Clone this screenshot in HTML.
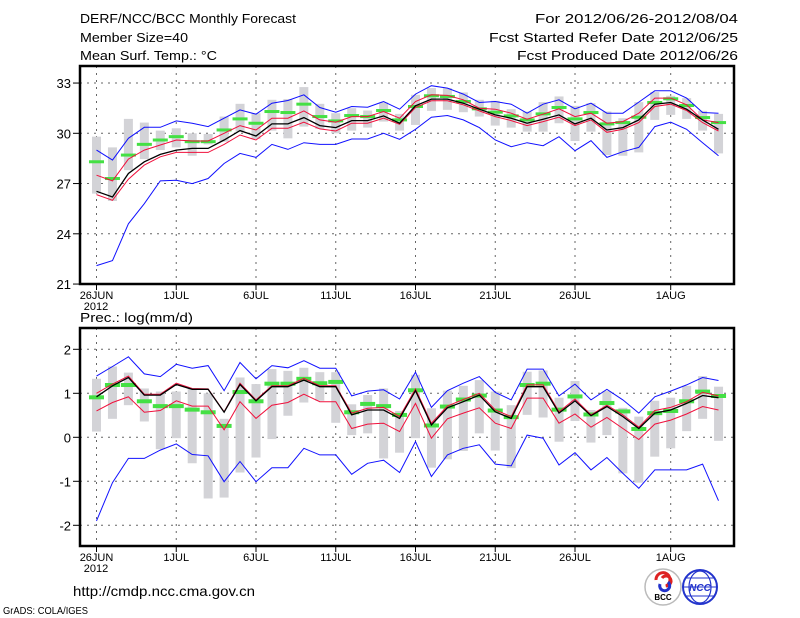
<!DOCTYPE html>
<html><head><meta charset="utf-8">
<style>
html,body{margin:0;padding:0;background:#fff;}
svg{display:block;font-family:"Liberation Sans",sans-serif;}
</style></head>
<body>
<svg id="chart" width="800" height="618" viewBox="0 0 800 618" xmlns="http://www.w3.org/2000/svg">
<g font-size="13" fill="#000">
<text x="80" y="23" textLength="216" lengthAdjust="spacingAndGlyphs">DERF/NCC/BCC Monthly Forecast</text>
<text x="80" y="42" textLength="108" lengthAdjust="spacingAndGlyphs">Member Size=40</text>
<text x="80" y="60" textLength="137" lengthAdjust="spacingAndGlyphs">Mean Surf. Temp.: °C</text>
<text x="738" y="23" text-anchor="end" textLength="203" lengthAdjust="spacingAndGlyphs">For 2012/06/26-2012/08/04</text>
<text x="738" y="42" text-anchor="end" textLength="249" lengthAdjust="spacingAndGlyphs">Fcst Started Refer Date 2012/06/25</text>
<text x="738" y="60" text-anchor="end" textLength="221" lengthAdjust="spacingAndGlyphs">Fcst Produced Date 2012/06/26</text>
</g>
<text x="80" y="322" font-size="13" textLength="113" lengthAdjust="spacingAndGlyphs">Prec.: log(mm/d)</text>
<text x="73" y="596" font-size="14" textLength="182" lengthAdjust="spacingAndGlyphs">http://cmdp.ncc.cma.gov.cn</text>
<text x="3" y="614" font-size="10" textLength="85" lengthAdjust="spacingAndGlyphs">GrADS: COLA/IGES</text>
<g>
<circle cx="663" cy="587" r="18" fill="#fff" stroke="#bbb" stroke-width="1.5"/>
<path d="M656 580 a7 7 0 1 1 10 6 a5 5 0 1 0 -4 -8" fill="none" stroke="#d22" stroke-width="3"/>
<path d="M660 584 a5 5 0 1 0 8 -2" fill="none" stroke="#23c" stroke-width="3"/>
<text x="663" y="600" font-size="8" text-anchor="middle" font-weight="bold">BCC</text>
</g>
<g>
<circle cx="700" cy="587" r="17" fill="#fff" stroke="#23c" stroke-width="2"/>
<ellipse cx="700" cy="587" rx="11" ry="16" fill="none" stroke="#23c" stroke-width="1.2"/>
<line x1="683" y1="587" x2="717" y2="587" stroke="#23c"/>
<line x1="686" y1="578" x2="714" y2="578" stroke="#23c"/>
<line x1="686" y1="596" x2="714" y2="596" stroke="#23c"/>
<text x="700" y="591" font-size="10" text-anchor="middle" font-style="italic" font-weight="bold" fill="#23c">NCC</text>
</g>
</svg>
<script>
const days = ["26JUN","1JUL","6JUL","11JUL","16JUL","21JUL","26JUL","1AUG"];
const dayIdx = [0,5,10,15,20,25,30,36];
const tTicks = [21,24,27,30,33];
const pTicks = [-2,-1,0,1,2];

const tBlueU = [29.0,28.4,29.7,30.36,30.36,30.74,30.6,30.4,30.9,31.4,31.14,31.8,31.96,32.3,31.54,31.26,31.6,31.56,31.9,31.44,32.34,32.84,32.7,32.34,31.84,31.9,31.74,31.2,31.74,32.0,31.46,31.8,31.2,31.2,31.86,32.54,32.54,32.1,31.24,31.2];
const tBlueL = [22.1,22.4,24.6,25.8,27.16,27.2,27.0,27.3,28.2,28.8,28.56,29.34,29.04,29.44,29.34,29.34,29.66,29.66,30.0,29.64,30.24,30.96,31.06,30.8,30.34,29.6,29.2,29.44,29.26,29.8,28.96,29.56,28.56,28.9,29.16,30.4,30.66,30.24,29.44,28.66];
const tMean = [26.54,26.2,27.6,28.3,28.74,29.0,29.1,29.1,29.6,30.16,29.84,30.56,30.56,30.94,30.46,30.34,30.76,30.76,31.04,30.6,31.64,32.04,32.04,31.8,31.44,31.1,30.9,30.6,30.84,31.1,30.56,30.9,30.2,30.34,30.8,31.74,31.84,31.44,30.8,30.24];
const tRedU = [27.5,27.16,28.46,29.0,29.3,29.6,29.54,29.54,30.0,30.46,30.2,30.9,30.9,31.34,30.8,30.66,31.0,31.0,31.3,30.9,31.9,32.3,32.26,32.0,31.5,31.44,31.2,30.84,31.14,31.46,31.0,31.2,30.6,30.7,31.2,32.1,32.1,31.7,30.8,30.64];
const tRedL = [26.34,26.0,27.26,28.1,28.6,28.86,28.86,28.86,29.34,29.9,29.6,30.3,30.3,30.66,30.26,30.14,30.6,30.6,30.9,30.54,31.54,31.94,31.94,31.7,31.34,31.0,30.76,30.46,30.7,30.96,30.46,30.8,30.06,30.24,30.64,31.6,31.74,31.36,30.64,30.14];
const tGreen = [28.3,27.3,28.7,29.34,29.6,29.8,29.5,29.5,30.2,30.86,30.6,31.3,31.24,31.74,31.0,30.74,31.06,31.0,31.36,30.8,31.6,32.24,32.2,31.9,31.46,31.26,31.04,30.8,31.16,31.54,30.86,31.24,30.56,30.64,30.96,31.84,32.06,31.66,30.94,30.64];
const tBoxTop = [29.8,29.16,30.86,30.64,30.16,30.3,30.0,29.96,31.0,31.76,31.2,32.0,32.04,32.76,31.76,31.2,31.5,31.36,31.84,31.16,32.3,32.7,32.7,32.44,32.0,31.94,31.44,31.3,31.86,32.2,31.64,31.8,31.3,30.9,31.86,32.46,32.24,32.1,31.34,31.16];
const tBoxBot = [26.4,25.96,27.8,28.46,29.0,29.16,28.66,29.34,29.5,30.1,29.66,30.16,29.7,30.4,30.26,30.0,30.16,30.34,30.7,30.16,30.5,31.34,31.4,31.26,31.0,30.46,30.34,30.1,30.1,30.6,29.54,30.1,28.7,28.66,28.86,30.8,31.1,30.86,30.16,28.8];

const pBlueU = [1.39,1.61,1.83,1.44,1.38,1.66,1.57,1.63,1.06,1.70,1.33,1.63,1.58,1.74,1.57,1.57,0.94,1.05,1.08,0.87,1.48,0.68,1.06,1.23,1.38,1.02,0.85,1.55,1.55,0.94,1.21,0.85,1.09,0.85,0.55,0.92,1.05,1.19,1.36,1.29];
const pBlueL = [-1.90,-1.03,-0.48,-0.48,-0.29,-0.15,-0.39,-0.42,-1.01,-0.55,-1.01,-0.69,-0.69,-0.25,-0.40,-0.40,-0.84,-0.59,-0.52,-0.80,-0.10,-0.89,-0.40,-0.25,-0.17,-0.61,-0.65,0.05,-0.02,-0.63,-0.35,-0.74,-0.46,-0.82,-1.16,-0.74,-0.74,-0.74,-0.61,-1.44];
const pMean = [0.92,1.17,1.36,0.96,0.96,1.20,1.09,1.09,0.57,1.20,0.83,1.15,1.15,1.30,1.15,1.15,0.51,0.62,0.62,0.43,1.06,0.28,0.67,0.81,0.96,0.58,0.43,1.15,1.15,0.55,0.83,0.49,0.70,0.47,0.20,0.55,0.62,0.77,0.95,0.90];
const pRedU = [1.00,1.21,1.39,0.98,0.98,1.23,1.11,1.10,0.58,1.23,0.85,1.17,1.17,1.34,1.17,1.17,0.55,0.66,0.68,0.47,1.10,0.32,0.71,0.86,1.00,0.62,0.47,1.19,1.19,0.58,0.87,0.51,0.73,0.51,0.23,0.61,0.68,0.81,1.02,0.94];
const pRedL = [0.60,0.79,0.92,0.57,0.61,0.83,0.71,0.71,0.17,0.81,0.43,0.73,0.79,0.98,0.81,0.81,0.20,0.30,0.32,0.13,0.77,-0.02,0.42,0.55,0.67,0.32,0.20,0.89,0.89,0.32,0.53,0.23,0.45,0.20,-0.05,0.30,0.39,0.53,0.70,0.62];
const pGreen = [0.92,1.20,1.20,0.83,0.72,0.72,0.64,0.58,0.27,1.04,0.83,1.23,1.23,1.34,1.24,1.27,0.58,0.77,0.72,0.52,1.08,0.28,0.71,0.87,0.96,0.62,0.47,1.20,1.23,0.64,0.94,0.53,0.79,0.60,0.20,0.56,0.61,0.83,1.05,0.95];
const pBoxTop = [1.33,1.61,1.47,1.11,1.04,1.04,1.11,1.00,0.42,1.36,1.21,1.55,1.51,1.58,1.48,1.48,0.75,0.96,1.11,0.60,1.42,0.66,1.06,1.17,1.30,1.04,0.73,1.49,1.52,0.90,1.28,0.62,1.05,0.67,0.47,0.83,0.90,1.17,1.39,1.15];
const pBoxBot = [0.13,0.42,0.73,0.36,-0.27,-0.02,-0.59,-1.39,-1.37,-0.80,-0.46,-0.04,0.49,0.79,0.83,0.33,0.05,0.09,-0.48,-0.35,-0.02,-0.69,-0.50,-0.31,0.09,-0.30,-0.70,0.51,0.45,-0.10,0.37,-0.12,0.05,-0.82,-1.03,-0.44,-0.25,0.14,0.42,-0.08];

const NS = "http://www.w3.org/2000/svg";
const svg = document.getElementById("chart");
function mk(tag, attrs, parent){ const e=document.createElementNS(NS,tag); for(const k in attrs) e.setAttribute(k,attrs[k]); parent.appendChild(e); return e; }
const xOf = d => 96.5 + d*15.95;

function panel(name, top, bottom, vTop, yOf, ticks, s){
  const g = mk("g",{},svg);
  
  
  const L=80, R=734;
  // grid
  dayIdx.forEach(d=>{ const gl=mk("line",{x1:xOf(d),x2:xOf(d),y1:top,y2:bottom,stroke:"#666","stroke-dasharray":"2,5","stroke-width":1},g);
      });
  ticks.forEach(t=>{ const y=yOf(t); if(y>top+2&&y<bottom-2){ const gl=mk("line",{x1:L,x2:R,y1:y,y2:y,stroke:"#666","stroke-dasharray":"2,5","stroke-width":1},g);
      } });
  // boxes
  s.boxTop.forEach((v,i)=>{ const y1=yOf(v), y2=yOf(s.boxBot[i]);
    const r=mk("rect",{x:xOf(i)-4.5,y:y1,width:9,height:y2-y1,fill:"#d3d3d7"},g);
      });
  s.green.forEach((v,i)=>{ const r=mk("rect",{x:xOf(i)-7.5,y:yOf(v)-1.5,width:15,height:s.gh,fill:"#44e044"},g);
      });
  const line=(arr,col,w,nm)=>{ const p=mk("polyline",{points:arr.map((v,i)=>xOf(i).toFixed(1)+","+yOf(v).toFixed(1)).join(" "),fill:"none",stroke:col,"stroke-width":w},g);
      };
  line(s.blueU,"#1010ff",1,"max-line"); line(s.blueL,"#1010ff",1,"min-line");
  line(s.redU,"#f0103c",1,"upper-bound-line"); line(s.redL,"#f0103c",1,"lower-bound-line");
  line(s.mean,"#000",1.3,"ensemble-mean-line");
  // frame
  const f=mk("rect",{x:L,y:top,width:R-L,height:bottom-top,fill:"none",stroke:"#000","stroke-width":2.5},g);
   
  ticks.forEach(t=>{ const y=yOf(t);
    mk("line",{x1:73,x2:L,y1:y,y2:y,stroke:"#000"},g);
    const tx=mk("text",{x:71,y:y+5,"font-size":13,"text-anchor":"end"},g); tx.textContent=t;
      });
  dayIdx.forEach((d,k)=>{ mk("line",{x1:xOf(d),x2:xOf(d),y1:bottom,y2:bottom+6,stroke:"#000"},g);
    const tx=mk("text",{x:xOf(d),y:bottom+15,"font-size":11,"text-anchor":"middle"},g); tx.textContent=days[k];
      });
  const yr=mk("text",{x:96,y:bottom+26,"font-size":11,"text-anchor":"middle"},g); yr.textContent="2012";
   
}
panel("temperature-panel",66,284,34,v=>133.3-(v-30)*16.75,tTicks,
  {blueU:tBlueU,blueL:tBlueL,mean:tMean,redU:tRedU,redL:tRedL,green:tGreen,boxTop:tBoxTop,boxBot:tBoxBot,gh:3});
panel("precip-panel",328,546,2.5,v=>437.3-v*44,pTicks,
  {blueU:pBlueU,blueL:pBlueL,mean:pMean,redU:pRedU,redL:pRedL,green:pGreen,boxTop:pBoxTop,boxBot:pBoxBot,gh:4});
</script>
</body></html>
